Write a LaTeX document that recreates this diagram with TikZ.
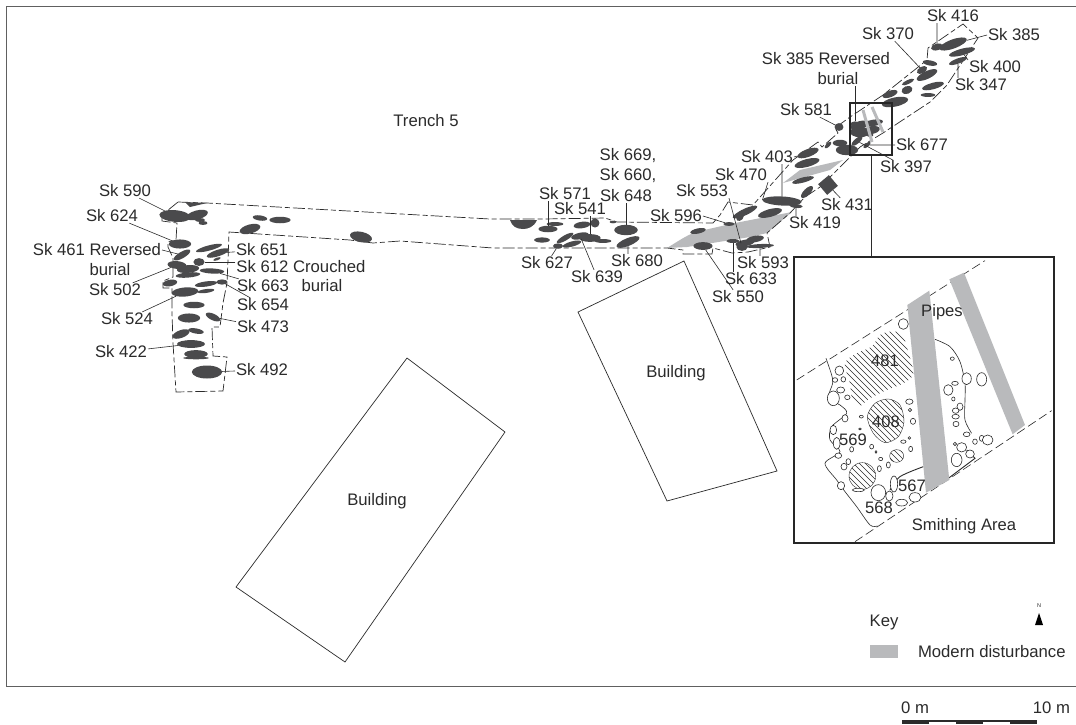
\documentclass[tikz,border=0pt]{standalone}
\usepackage{fontspec}
\setmainfont{Liberation Sans}
\usetikzlibrary{shapes.geometric}
\definecolor{ink}{HTML}{2B2B2B}
\definecolor{bone}{HTML}{4A4A4C}
\definecolor{dist}{HTML}{B9BABC}
\tikzset{
  burial/.style={ellipse,fill=bone,inner sep=0pt,outer sep=0pt},
  lab/.style={font=\fontsize{16.7}{19}\selectfont,text=ink,inner sep=1pt,outer sep=0pt},
  insetlab/.style={font=\fontsize{16.6}{18}\selectfont,text=ink,inner sep=0pt},
  lead/.style={draw=ink,line width=0.6pt},
  trench/.style={draw=ink,line width=0.7pt,dash pattern=on 12pt off 3pt on 5pt off 3pt},
  bldg/.style={draw=ink,line width=0.7pt},
  stone/.style={draw=ink,line width=0.6pt,fill=white},
  hatchline/.style={draw=ink,line width=0.45pt},
  insetdash/.style={draw=ink,line width=0.6pt,dash pattern=on 9pt off 4pt},
}
\newcommand\bur[6]{\node[burial,minimum width={#4*1.12pt},minimum height={#5*1.3pt},rotate=#6] (#1) at (#2,#3) {};}
\newcommand\st[4]{\draw[stone] (#1,#2) ellipse [x radius=#3,y radius=#4];}
\newcommand\hatchfill{\foreach \a in {-702,-684,...,600}{\draw[hatchline] (\a,0) -- (\a+800,800);}}
\begin{document}
\begin{tikzpicture}[x=1pt,y=-1pt]
\useasboundingbox[fill=white] (0,0) rectangle (1076,724);
% frame
\draw[draw=ink!75,line width=0.8pt] (1076,6) -- (6,6) -- (6,686) -- (1076,686);
% buildings
\draw[bldg] (407,358) -- (505,432) -- (345,662) -- (236,587) -- cycle;
\draw[bldg] (684,261) -- (777,471) -- (667,501) -- (578,312) -- cycle;
% disturbance
\fill[dist] (667,248) .. controls (680,240) and (690,233) .. (700,231) -- (735,223) -- (792,212) -- (767,233) -- (750,237) -- (687,247) -- cycle;
\fill[dist] (783,183) -- (800,170) -- (843,160) -- (830,170) -- cycle;
% trench outline
\draw[trench] (178,202) -- (207,203) -- (490,219) -- (543,219) -- (605,218) -- (617,222) -- (713,223) -- (720,215) -- (728,202) -- (753,205) -- (793,160) -- (818,142) -- (822,147) -- (838,133) -- (835,128) -- (850,117) -- (883,95) -- (927,60) -- (928,48) -- (963,24) -- (978,38) -- (947,85) -- (930,102) -- (883,133) -- (860,147) -- (820,187) -- (805,197) -- (790,213) -- (767,233) -- (770,247) -- (748,252) -- (732,253) -- (713,248) -- (712,254) -- (683,254) -- (683,250) -- (667,248) -- (493,248) -- (400,241) -- (373,243) -- (350,240) -- (229,232) -- (228,260) -- (227,283) -- (223,303) -- (220,327) -- (212,327) -- (213,356) -- (227,357) -- (223,391) -- (176,392) -- (173,343) -- (172,313) -- (172,288) -- (163,288) -- (163,281) -- (173,277) -- (173,258) -- (168,247) -- (168,242) -- (176,240) -- (177,223) -- (162,221) -- (162,215) -- (178,202);
% west burials
\fill[bone] (185,202) -- (207,203) -- (190,207) -- cycle;
\bur{b590}{175}{216}{28}{9}{-5}
\bur{a2}{197}{215}{20}{7}{15}
\bur{a3}{200}{220}{9}{3}{0}
\bur{a4}{203}{223}{8}{3}{0}
\bur{a5}{260}{218}{13}{4}{-8}
\bur{a6}{280}{220}{19}{5}{0}
\bur{a7}{250}{229}{19}{7}{15}
\bur{a8}{361}{237}{20}{8}{-12}
\bur{b624}{180}{244}{20}{7}{0}
\bur{b461}{182}{255}{17}{5}{30}
\bur{a9}{209}{248}{24}{4}{15}
\bur{b651}{218}{253}{21}{5}{18}
\bur{a10}{217}{259}{7}{2}{20}
\bur{b612}{199}{262}{10}{6}{0}
\bur{b502}{177}{265}{17}{6}{-5}
\bur{a11}{188}{269}{20}{6}{5}
\bur{a12}{188}{275}{22}{4}{5}
\bur{b663}{212}{271}{22}{4}{-3}
\bur{a13}{170}{283}{13}{5}{10}
\bur{a14}{206}{284}{20}{4}{8}
\bur{b654}{222}{282}{10}{4}{0}
\bur{b524}{185}{292}{24}{7}{5}
\bur{a15}{206}{291}{15}{3}{8}
\bur{a16}{194}{305}{19}{5}{0}
\bur{a17}{189}{318}{20}{7}{0}
\bur{b473}{213}{317}{14}{5}{-25}
\bur{a18}{181}{334}{16}{6}{20}
\bur{a19}{196}{331}{14}{4}{-10}
\bur{b422}{191}{344}{25}{6}{0}
\bur{a20}{196}{354}{21}{6}{0}
\bur{a21}{196}{358}{23}{2}{0}
\bur{b492}{207}{372}{27}{10}{0}
% central burials
\fill[bone] (510,220) -- (537,220) .. controls (534,227) and (528,229) .. (523,229) .. controls (516,229) and (512,226) .. (510,220) -- cycle;
\bur{b571}{548}{229}{17}{5}{0}
\bur{c1}{555}{224}{15}{3}{0}
\bur{c2}{542}{240}{14}{4}{0}
\bur{c3}{565}{238}{17}{4}{30}
\bur{b627}{558}{246}{9}{4}{0}
\bur{c4}{572}{244}{17}{4}{15}
\bur{b639}{580}{236}{16}{5}{12}
\bur{b541}{590}{238}{19}{6}{0}
\bur{c5}{603}{241}{15}{3}{0}
\bur{c6}{582}{225}{15}{5}{8}
\bur{c7}{595}{223}{8}{7}{0}
\bur{c8}{613}{222}{6}{2}{0}
\bur{b648}{626}{230}{21}{8}{0}
\bur{b680}{628}{242}{22}{6}{22}
\bur{d1}{698}{231}{14}{4}{12}
\bur{b550}{703}{246}{17}{6}{0}
\bur{b596}{729}{224}{10}{3}{0}
\bur{b633}{733}{241}{12}{3}{0}
\bur{d2}{745}{212}{24}{5}{25}
\bur{d3}{740}{217}{8}{5}{50}
\bur{d4}{770}{213}{22}{6}{15}
\bur{b470}{782}{201}{35}{7}{-3}
\bur{b419}{796}{206}{12}{3}{-5}
\bur{d5}{745}{243}{17}{5}{10}
\bur{d6}{755}{239}{16}{5}{10}
\bur{b553}{742}{247}{10}{6}{0}
\bur{b593}{760}{246}{25}{3}{3}
% north-east burials
\bur{b403}{808}{153}{20}{6}{20}
\bur{e1}{807}{163}{23}{6}{15}
\bur{e2}{803}{180}{20}{4}{15}
\bur{e3}{807}{192}{14}{5}{45}
\node[fill=bone,inner sep=0pt,minimum size=14pt,rotate=40] (b431) at (828,185) {};
\bur{e4}{840}{143}{13}{5}{0}
\bur{e5}{847}{150}{20}{8}{0}
\bur{e6}{828}{145}{8}{3}{45}
\bur{b581}{839}{127}{8}{6}{0}
\bur{e7}{860}{125}{18}{6}{15}
\bur{e8}{873}{123}{18}{5}{10}
\bur{e9}{860}{132}{18}{8}{0}
\bur{e10}{872}{130}{14}{6}{10}
\bur{b397}{857}{141}{12}{4}{40}
\bur{b677}{867}{145}{8}{3}{40}
\bur{e11}{870}{135}{6}{3}{0}
\bur{e12}{895}{102}{24}{7}{12}
\bur{e13}{890}{94}{14}{5}{20}
\bur{e14}{907}{90}{10}{6}{20}
\bur{e15}{908}{82}{12}{3}{25}
\bur{e16}{927}{75}{20}{6}{25}
\bur{b370}{922}{70}{10}{5}{30}
\bur{e17}{930}{63}{13}{4}{-10}
\bur{e18}{933}{86}{20}{5}{15}
\bur{e19}{928}{95}{13}{3}{0}
\bur{b385}{953}{44}{26}{7}{20}
\bur{b416}{937}{47}{11}{5}{15}
\bur{b400}{962}{52}{24}{5}{15}
\bur{b347}{958}{61}{17}{4}{20}
\bur{brev}{855}{124}{8}{4}{0}
% small pipes in the locator square
\draw[dist,line width=3pt] (863,110) -- (872,142);
\draw[dist,line width=3pt] (872,107) -- (883,132);
% labels
\node[lab] at (426,121) {Trench 5};
\node[lab] at (377,501) {Building};
\node[lab] at (676,373) {Building};
\node[lab] (l590) at (125,191) {Sk 590};
\node[lab] (l624) at (112,216) {Sk 624};
\node[lab] (l461) at (97,250) {Sk 461 Reversed};
\node[lab] at (110,270) {burial};
\node[lab] (l502) at (115,290) {Sk 502};
\node[lab] (l524) at (127,319) {Sk 524};
\node[lab] (l422) at (121,352) {Sk 422};
\node[lab] (l651) at (262,250) {Sk 651};
\node[lab] (l612) at (301,267) {Sk 612 Crouched};
\node[lab] (l663) at (263,286) {Sk 663};
\node[lab] at (322,286) {burial};
\node[lab] (l654) at (263,305) {Sk 654};
\node[lab] (l473) at (263,327) {Sk 473};
\node[lab] (l492) at (262,370) {Sk 492};
\node[lab] at (628,156) {Sk 669,};
\node[lab] at (628,176) {Sk 660,};
\node[lab] (l648) at (626,196) {Sk 648};
\node[lab] (l571) at (565,194) {Sk 571};
\node[lab] (l541) at (580,209) {Sk 541};
\node[lab] (l596) at (676,216) {Sk 596};
\node[lab] (l553) at (702,191) {Sk 553};
\node[lab] (l470) at (741,175) {Sk 470};
\node[lab] (l403) at (767,157) {Sk 403};
\node[lab] (l627) at (547,263) {Sk 627};
\node[lab] (l639) at (597,277) {Sk 639};
\node[lab] (l680) at (637,261) {Sk 680};
\node[lab] (l593) at (763,263) {Sk 593};
\node[lab] (l633) at (751,279) {Sk 633};
\node[lab] (l550) at (738,297) {Sk 550};
\node[lab] (l419) at (815,223) {Sk 419};
\node[lab] (l431) at (847,205) {Sk 431};
\node[lab] (l416) at (953,16) {Sk 416};
\node[lab] (l385) at (1014,35) {Sk 385};
\node[lab] (l370) at (888,34) {Sk 370};
\node[lab] (l400) at (995,67) {Sk 400};
\node[lab] (l347) at (981,85) {Sk 347};
\node[lab] at (826,59) {Sk 385 Reversed};
\node[lab] (lrev) at (838,79) {burial};
\node[lab] (l581) at (806,110) {Sk 581};
\node[lab] (l677) at (922,145) {Sk 677};
\node[lab] (l397) at (906,167) {Sk 397};
% leaders
\draw[lead] (l590) -- (b590);
\draw[lead] (l624) -- (b624);
\draw[lead] (l461.east) -- (b461);
\draw[lead] (l502) -- (b502);
\draw[lead] (l524) -- (b524);
\draw[lead] (l422) -- (b422);
\draw[lead] (l651) -- (b651);
\draw[lead] (l612.west |- b612) -- (b612);
\draw[lead] (l663) -- (b663);
\draw[lead] (l654) -- (b654);
\draw[lead] (l473) -- (b473);
\draw[lead] (l492) -- (b492);
\draw[lead] (l571.south -| b571) -- (b571);
\draw[lead] (l541.south -| b541) -- (b541);
\draw[lead] (l648.south -| b648) -- (b648);
\draw[lead] (l627) -- (b627);
\draw[lead] (l639) -- (b639);
\draw[lead] (l680.north -| b680) -- (b680);
\draw[lead] (l596.east) -- (b596);
\draw[lead] (l553.south east) -- (b553);
\draw[lead] (l633.north -| b633) -- (b633);
\draw[lead] (l593.north -| b593) -- (b593);
\draw[lead] (l550) -- (b550);
\draw[lead] (l470.south east) -- (b470.west);
\draw[lead] (l403.south -| b470) -- (b470);
\draw[lead] (l403.east) -- (b403);
\draw[lead] (l419.north -| b419) -- (b419);
\draw[lead] (l431) -- (b431);
\draw[lead] (l397) -- (b397);
\draw[lead] (l677.west) -- (b677);
\draw[lead] (lrev.south -| brev) -- (brev);
\draw[lead] (l581) -- (b581);
\draw[lead] (l370) -- (b370);
\draw[lead] (l416.south -| b416) -- (b416);
\draw[lead] (l385.west) -- (b385);
\draw[lead] (l400.north west) -- (b400);
\draw[lead] (l347.north -| b347) -- (b347);
% locator and inset
\node[draw=black!85,line width=2.4pt,minimum width=42pt,minimum height=52pt,inner sep=0pt] (locator) at (871,129) {};
\node[draw=black!85,line width=2.4pt,minimum width=260pt,minimum height=286pt,inner sep=0pt] (inset) at (924,400) {};
\draw[lead] (locator.south) -- (inset.north -| locator.south);
\begin{scope}[shift={(790,250)},x=0.3333pt,y=-0.3333pt]
  \draw[insetdash] (20,390) -- (585,32);
  \draw[insetdash] (195,875) -- (785,482);
  % hatched pits
  \begin{scope}
    \clip plot[smooth cycle] coordinates {(165,340) (200,310) (245,290) (270,255) (300,245) (335,250) (350,290) (370,370) (340,400) (290,420) (240,445) (205,470) (185,440) (180,400)};
    \hatchfill
  \end{scope}
  \begin{scope}
    \clip plot[smooth cycle] coordinates {(232,500) (255,460) (295,447) (330,465) (342,515) (325,560) (285,578) (250,550)};
    \hatchfill
  \end{scope}
  \draw[draw=ink,line width=0.4pt] plot[smooth cycle] coordinates {(232,500) (255,460) (295,447) (330,465) (342,515) (325,560) (285,578) (250,550)};
  \begin{scope}
    \clip (217,678) ellipse [x radius=40,y radius=40];
    \hatchfill
  \end{scope}
  \draw[draw=ink,line width=0.4pt] (217,678) ellipse [x radius=40,y radius=40];
  \begin{scope}
    \clip (320,618) ellipse [x radius=21,y radius=19];
    \hatchfill
  \end{scope}
  \draw[draw=ink,line width=0.4pt] (320,618) ellipse [x radius=21,y radius=19];
  % working area outline
  \draw[draw=ink,line width=0.6pt] plot[smooth] coordinates {(108,325) (125,375) (128,400) (115,445) (150,465) (170,490) (125,530) (120,570) (150,605) (105,640) (140,690) (165,725) (200,770) (240,825) (262,828)};
  \draw[draw=ink,line width=0.6pt] plot[smooth] coordinates {(435,268) (480,290) (510,335) (525,400) (525,450) (525,510) (545,550)};
  \draw[draw=ink,line width=0.9pt] plot[smooth] coordinates {(300,720) (330,680) (400,650)};
  \draw[draw=ink,line width=0.9pt] (475,685) -- (555,625) -- (530,600);
  % stones
  \st{340}{222}{15}{16} \st{148}{362}{13}{14} \st{135}{390}{8}{7} \st{160}{388}{7}{8}
  \st{152}{420}{12}{9} \st{130}{445}{18}{22} \st{172}{442}{8}{7} \st{165}{505}{9}{11}
  \st{130}{540}{10}{14} \st{140}{580}{10}{18} \st{145}{617}{10}{8} \st{162}{650}{9}{10}
  \st{175}{635}{7}{9} \st{153}{707}{11}{12} \st{185}{598}{6}{8} \st{214}{500}{6}{4}
  \st{210}{537}{4}{3} \st{245}{590}{6}{7} \st{258}{606}{3}{4} \st{272}{627}{6}{5}
  \st{268}{656}{6}{9} \st{295}{645}{6}{9} \st{358}{455}{11}{8} \st{360}{480}{5}{5}
  \st{369}{514}{8}{9} \st{340}{575}{8}{5} \st{358}{564}{4}{4} \st{362}{597}{6}{8}
  \st{487}{326}{6}{5} \st{530}{386}{14}{18} \st{575}{388}{15}{20} \st{495}{400}{10}{6}
  \st{475}{420}{14}{16} \st{490}{447}{5}{6} \st{510}{470}{9}{11} \st{497}{482}{10}{8}
  \st{497}{500}{11}{7} \st{498}{522}{9}{8} \st{530}{553}{10}{7} \st{555}{575}{7}{8}
  \st{575}{565}{7}{9} \st{593}{570}{16}{15} \st{495}{582}{5}{5} \st{515}{592}{15}{14}
  \st{540}{612}{13}{12} \st{500}{630}{16}{20} \st{265}{728}{22}{24} \st{312}{702}{11}{24}
  \st{298}{738}{11}{15} \st{335}{758}{18}{10} \st{375}{742}{18}{14} \st{205}{720}{18}{5}
  % pipes
  \fill[dist] (352,165) -- (418,122) -- (478,690) -- (408,728) -- cycle;
  \fill[dist] (478,88) -- (522,68) -- (705,525) -- (668,553) -- cycle;
\end{scope}
\node[insetlab] at (942,312) {Pipes};
\node[insetlab] at (885,361) {481};
\node[insetlab] at (886,422) {408};
\node[insetlab] at (853,440) {569};
\node[insetlab] at (912,486) {567};
\node[insetlab] at (879,508) {568};
\node[insetlab] at (964,526) {Smithing Area};
% key
\node[lab] at (884,622) {Key};
\node[fill=dist,inner sep=0pt,minimum width=28pt,minimum height=13pt] (swatch) at (884,651.5) {};
\node[lab,anchor=west] at (917,652) {Modern disturbance};
\node[font=\fontsize{5.5}{6}\selectfont,text=ink,inner sep=0pt] at (1039,606) {N};
\fill[black] (1039,613) -- (1043,625) -- (1035,625) -- cycle;
% scale
\node[lab] at (915,708) {0 m};
\node[lab,anchor=east] at (1071,708) {10 m};
\fill[ink] (902,720) rectangle (1037,724);
\fill[white] (929,721.5) rectangle (956,724);
\fill[white] (983,721.5) rectangle (1010,724);
\end{tikzpicture}
\end{document}
